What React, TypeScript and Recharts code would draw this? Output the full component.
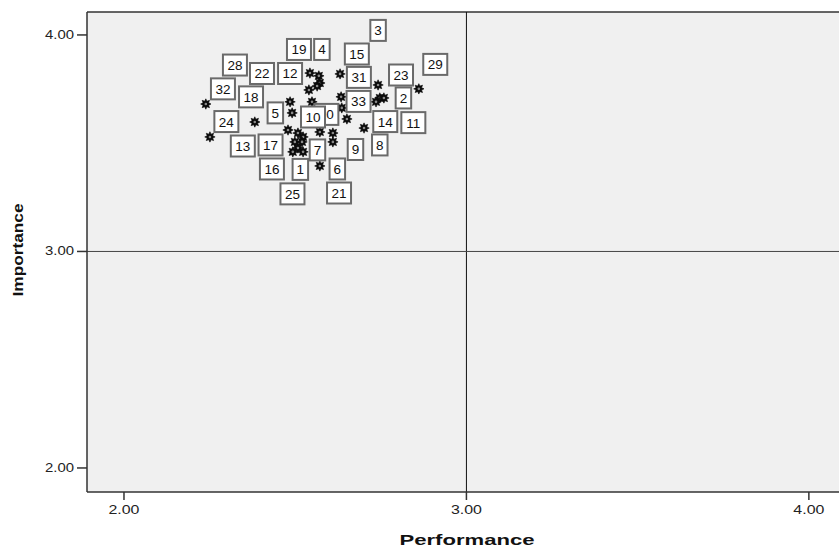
import React from 'react';
import { ScatterChart, Scatter, XAxis, YAxis, CartesianGrid, ReferenceLine } from 'recharts';

// Points: Performance (x) and Importance (y)
const perf = [2.239, 2.251, 2.382, 2.485, 2.491, 2.543, 2.569, 2.572, 2.564, 2.540, 2.549, 2.631, 2.634, 2.742, 2.861, 2.747, 2.736, 2.651, 2.701, 2.610, 2.610, 2.572, 2.479, 2.508, 2.523, 2.499, 2.520, 2.508, 2.493, 2.523, 2.572, 2.636, 2.759];
const imp = [3.681, 3.529, 3.598, 3.691, 3.640, 3.824, 3.811, 3.778, 3.764, 3.746, 3.691, 3.820, 3.714, 3.769, 3.751, 3.709, 3.691, 3.612, 3.570, 3.547, 3.506, 3.552, 3.561, 3.547, 3.529, 3.506, 3.506, 3.478, 3.460, 3.460, 3.395, 3.663, 3.709];

// Case labels as placed on the chart
const labelIds = ['3', '19', '4', '15', '29', '28', '22', '12', '31', '23', '32', '18', '2', '33', '5', '20', '10', '14', '11', '24', '13', '17', '7', '9', '8', '16', '1', '6', '25', '21'];
const labelPerf = [2.742, 2.511, 2.578, 2.680, 2.909, 2.324, 2.403, 2.485, 2.686, 2.809, 2.289, 2.371, 2.816, 2.685, 2.442, 2.591, 2.552, 2.763, 2.845, 2.299, 2.347, 2.428, 2.565, 2.676, 2.747, 2.432, 2.515, 2.623, 2.492, 2.628];
const labelImp = [4.021, 3.933, 3.933, 3.912, 3.864, 3.861, 3.822, 3.822, 3.804, 3.815, 3.751, 3.714, 3.709, 3.693, 3.640, 3.633, 3.621, 3.600, 3.595, 3.600, 3.487, 3.492, 3.469, 3.471, 3.492, 3.381, 3.379, 3.381, 3.266, 3.270];

const axisTicks = [2, 3, 4];
const xDomain = [1.892, 4.088];
const yDomain = [1.889, 4.106];

const points = perf.map((p, i) => ({ x: p, y: imp[i] }));
const labels = labelIds.map((id, i) => ({ x: labelPerf[i], y: labelImp[i], id }));

const FONT = '"Liberation Sans", Arial, sans-serif';

const Star = (props: any) => {
  const { cx, cy } = props;
  if (cx == null || cy == null) return null;
  const pts: string[] = [];
  const n = 8;
  for (let i = 0; i < n * 2; i++) {
    const r = i % 2 === 0 ? 5.2 : 3.0;
    const a = (Math.PI * i) / n - Math.PI / 2;
    pts.push(`${cx + r * Math.cos(a)},${cy + r * Math.sin(a)}`);
  }
  return (
    <g>
      <polygon points={pts.join(' ')} fill="#0a0a0a" stroke="#0a0a0a" strokeWidth={0.6} />
      <circle cx={cx} cy={cy} r={1.3} fill="#8a8a8a" />
    </g>
  );
};

const LabelBox = (props: any) => {
  const { cx, cy, payload } = props;
  if (cx == null || cy == null) return null;
  const text = String(payload.id);
  const w = 7 + 8.5 * text.length;
  const h = 21;
  return (
    <g>
      <rect x={cx - w / 2} y={cy - h / 2} width={w} height={h} fill="#fff" stroke="#6a6a6a" strokeWidth={2} />
      <text x={cx} y={cy + 5} textAnchor="middle" fontFamily={FONT} fontSize={13.5} fill="#111">
        {text}
      </text>
    </g>
  );
};

const XTick = (props: any) => {
  const { x, y, payload } = props;
  return (
    <text x={x} y={y + 10} textAnchor="middle" fontFamily={FONT} fontSize={12} fill="#222" textLength={31} lengthAdjust="spacingAndGlyphs">
      {Number(payload.value).toFixed(2)}
    </text>
  );
};

const YTick = (props: any) => {
  const { x, y, payload } = props;
  return (
    <text x={x} y={y + 4} textAnchor="end" fontFamily={FONT} fontSize={12} fill="#222" textLength={29} lengthAdjust="spacingAndGlyphs">
      {Number(payload.value).toFixed(2)}
    </text>
  );
};

const XLabel = (props: any) => {
  const vb = props.viewBox || {};
  const cx = (vb.x || 0) + (vb.width || 0) / 2 + 4;
  return (
    <text x={cx} y={545} textAnchor="middle" fontFamily={FONT} fontWeight="bold" fontSize={15} fill="#111" textLength={135} lengthAdjust="spacingAndGlyphs">
      Performance
    </text>
  );
};

const YLabel = (props: any) => {
  const vb = props.viewBox || {};
  const cy = (vb.y || 0) + (vb.height || 0) / 2 - 2;
  return (
    <text x={23} y={cy} transform={`rotate(-90 23 ${cy})`} textAnchor="middle" fontFamily={FONT} fontWeight="bold" fontSize={14.5} fill="#111" textLength={93} lengthAdjust="spacingAndGlyphs">
      Importance
    </text>
  );
};

export default function App() {
  return (
    <div style={{ position: 'absolute', left: 0, top: 0, width: 839, height: 547, overflow: 'hidden', background: '#fff' }}>
      <ScatterChart width={839} height={547} margin={{ top: 12, right: 0, bottom: 0, left: 0 }}>
        <CartesianGrid fill="#f0f0f0" stroke="none" horizontal={false} vertical={false} />
        <XAxis
          type="number"
          dataKey="x"
          domain={xDomain}
          ticks={axisTicks}
          allowDataOverflow
          height={55}
          tickSize={8}
          tickMargin={4}
          stroke="#333"
          strokeWidth={1.5}
          tick={<XTick />}
          label={<XLabel />}
        />
        <YAxis
          type="number"
          dataKey="y"
          domain={yDomain}
          ticks={axisTicks}
          allowDataOverflow
          width={87}
          tickSize={10}
          tickMargin={3}
          stroke="#333"
          strokeWidth={1.5}
          tick={<YTick />}
          label={<YLabel />}
        />
        <ReferenceLine y={yDomain[1]} stroke="#333" strokeWidth={1.5} />
        <ReferenceLine x={3} stroke="#111" />
        <ReferenceLine y={3} stroke="#444" />
        <Scatter data={points} shape={<Star />} isAnimationActive={false} />
        <Scatter data={labels} shape={<LabelBox />} isAnimationActive={false} />
      </ScatterChart>
    </div>
  );
}
